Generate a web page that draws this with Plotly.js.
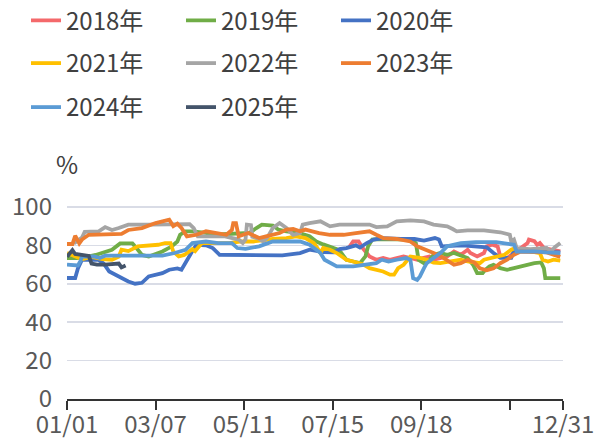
<!DOCTYPE html>
<html><head><meta charset="utf-8">
<script src="https://cdn.plot.ly/plotly-3.0.1.min.js"></script>
<style>html,body{margin:0;padding:0;background:#fff}#chart{width:598px;height:439px}</style>
</head><body><div id="chart"></div>
<script>
const seriesNames = ["2018年","2019年","2020年","2021年","2022年","2023年","2024年","2025年"];
const seriesColors = ["#F4696B","#70AD47","#4472C4","#FFC000","#A5A5A5","#ED7D31","#5B9BD5","#44546A"];

const d2018 = ["07-27","07-30","08-03","08-06","08-11","08-16","08-21","08-26","08-31","09-05","09-10","09-15","09-19","09-24","09-27","10-02","10-07","10-12","10-17","10-22","10-24","10-29","11-03","11-05","11-09","11-13","11-15","11-20","11-25","11-30","12-05","12-06","12-10","12-12","12-14","12-17","12-22","12-29"];
const v2018 = [79,82,82,78.6,74.2,72.5,73.4,72.5,73.4,74.2,73.4,72.5,73.4,74.2,72.5,73.4,74.2,76.8,75.1,77.7,76,74.2,76,79.5,80.3,79.5,74.2,73.4,76,78.6,81.2,83,82.2,80.3,81.2,78.6,77.7,76.8];

const d2019 = ["01-01","01-12","01-22","02-03","02-09","02-18","02-21","02-25","03-02","03-07","03-12","03-19","03-23","03-25","03-29","04-03","04-13","04-18","05-15","05-20","05-24","06-01","06-05","06-11","06-20","06-28","07-03","07-08","07-13","07-18","07-21","07-25","07-30","08-04","08-08","08-10","08-13","08-19","09-10","09-14","09-16","09-20","09-24","09-27","10-02","10-07","10-12","10-17","10-22","10-26","10-29","11-02","11-04","11-07","11-10","11-15","11-20","11-25","12-05","12-10","12-15","12-17","12-18","12-29"];
const v2019 = [73.4,73.4,75,77.7,81,81,78.6,75,74.2,75.5,76.8,79.5,82,85.5,87.3,87.3,86.5,85.5,86.5,89,90.8,90.3,88.2,87.3,86.5,84.7,82,80.5,79.5,78,76.3,72.5,71.6,70.7,74.2,79.5,83,83.3,83,81.2,72.5,70.7,72.5,75,76,75.1,76,74.5,73.4,69.9,65.5,65.5,67.3,69,69.9,68.1,67.3,68.1,69.9,70.7,71.1,68,62.9,62.9];

const d2020 = ["01-01","01-07","01-09","01-12","01-24","01-28","02-01","02-08","02-15","02-20","02-25","03-02","03-12","03-17","03-23","03-26","03-30","04-03","04-06","04-13","04-18","04-23","06-08","06-15","06-21","06-28","07-08","07-16","07-20","07-25","08-01","08-04","08-09","08-14","08-21","09-03","09-13","09-20","09-28","10-01","10-03","10-18","10-28","11-05","11-10","11-15","11-23","11-26","11-30","12-12","12-29"];
const v2020 = [63,63,68,72.5,72.5,70.5,66.4,63.8,61.2,60,60.5,63.8,65.5,67.3,68,67.3,72.5,77,80.3,80,78.6,75.1,74.8,75.5,76,77.7,76.5,76.3,78,78.6,80,78.8,81.2,83,83.8,83.3,83.3,82.5,83.8,83,79.5,80,79.5,79,76,73.5,73.5,79,77,76.7,76.3];

const d2021 = ["01-01","01-06","01-12","01-19","01-27","02-03","02-08","02-10","02-15","02-22","03-02","03-09","03-14","03-18","03-20","03-24","03-28","03-31","04-03","04-05","04-10","04-30","05-08","05-18","05-25","06-01","06-11","06-18","06-25","07-01","07-03","07-06","07-08","07-13","07-18","07-25","07-30","08-06","08-11","08-16","08-21","08-26","08-29","09-01","09-05","09-10","09-17","09-22","09-27","10-02","10-12","10-17","10-22","10-31","11-03","11-08","11-13","11-18","11-23","11-26","11-30","12-09","12-14","12-16","12-20","12-24","12-29"];
const v2021 = [76,74.5,72.8,74,72.8,72.5,74.2,77.7,77,79.5,79.8,80.3,81.2,81.2,76.8,74.2,75,76.8,78,77,81.2,81.2,82,82,82.8,83.3,83.8,84.7,83.8,81.2,79.5,76,78.6,77.7,76,72.5,71.6,70.2,68.1,67.3,66.4,64.7,64.7,68.1,69.9,74.2,73.5,72.5,71,70.7,71.6,72.5,71.6,70.7,72.5,73.4,74.2,75.1,77.7,78.6,77.7,76.8,76,72.5,71.6,72.5,72];

const d2022 = ["01-06","01-12","01-14","01-24","01-29","02-03","02-08","02-15","03-02","03-17","04-01","04-04","04-07","04-27","05-07","05-10","05-12","05-13","05-16","05-17","05-22","05-25","05-28","06-01","06-06","06-11","06-16","06-21","06-23","06-28","07-06","07-13","07-20","08-11","08-16","08-24","08-31","09-10","09-20","09-27","10-07","10-11","10-14","10-22","11-03","11-15","11-22","11-23","11-25","11-27","12-07","12-19","12-22","12-25","12-29"];
const v2022 = [81,84,87,87.2,89.5,88,89,90.8,90.8,91,91,89,84.7,84.7,83,81.2,83,90.8,90.5,84.5,83.5,82,84,89,91.6,89,85.5,86.4,90.8,91.6,92.5,89.9,90.8,90.8,89.5,89.9,92.5,93,92.5,90.8,89.9,88.5,87.3,87.8,87.8,86.8,85.5,82,83,78.6,78,78.6,76.8,79,81.2];

const d2023 = ["01-01","01-05","01-07","01-10","01-12","01-17","02-10","02-15","02-25","03-07","03-17","03-20","03-23","03-26","03-30","04-06","04-13","04-20","04-28","05-02","05-03","05-05","05-07","05-14","05-17","05-22","05-27","06-06","06-11","06-16","06-21","06-25","06-30","07-05","07-13","07-23","08-01","08-11","08-16","08-21","08-31","09-10","09-15","09-22","09-27","10-02","10-07","10-12","10-17","10-22","10-27","10-31","11-05","11-10","11-15","11-20","11-25","11-30","12-19","12-29"];
const v2023 = [80.7,80.7,85,81,83,85.5,86,88,89,91.6,93.4,90,91.3,89,84.7,85.5,87.3,86.4,85.5,88,91.6,91.6,84.7,86.4,85.5,83.8,84.7,86.4,88.2,88.5,87.3,88.2,87.3,86.4,85.5,85.5,86.4,87.3,85.5,83.8,83.3,82,79.5,77.7,76,74.5,72,69.9,70.7,72.5,71,68,67,68,70.7,72.5,75.1,76.8,76.3,74];

const d2024 = ["01-01","01-09","01-11","01-12","01-21","01-25","01-29","03-12","03-21","03-29","04-03","04-13","04-22","05-02","05-06","05-12","05-22","06-01","06-21","06-28","07-03","07-06","07-09","07-13","07-18","07-30","08-09","08-16","08-20","08-25","08-31","09-07","09-10","09-12","09-15","09-17","09-20","09-22","09-27","10-02","10-07","10-12","10-17","10-28","11-12","11-17","11-25","11-27","12-10","12-19","12-29"];
const v2024 = [70,69.5,72,74.2,74.2,73.4,74.6,74.6,76,77.7,81.2,82,81.2,81.2,78.6,78.2,79.5,82,82,80.3,77.7,76,72.5,70.7,69,69,69.9,70.7,72.5,71.6,72.5,73.4,72.5,62.9,62,63.8,68.1,70.7,73.4,76,79.5,80.3,81.2,81.7,81.7,81.2,80.3,76.8,76.8,76.3,76];

const d2025 = ["01-01","01-05","01-07","01-12","01-17","01-19","01-23","01-29","02-04","02-08","02-10","02-13"];
const v2025 = [74,77.5,75.5,75,74.5,70.5,70,70,70.3,70.5,68.5,69.5];

const xTickDates = ["01-01","03-07","05-11","07-15","09-18","11-22","12-31"];
const xTickLabels = ["01/01","03/07","05/11","07/15","09/18","","12/31"];
const yTicks = [0,20,40,60,80,100];

const BASE_YEAR = "2023-";
const toDate = a => a.map(s => BASE_YEAR + s);
const allDates = [d2018,d2019,d2020,d2021,d2022,d2023,d2024,d2025];
const allVals = [v2018,v2019,v2020,v2021,v2022,v2023,v2024,v2025];
const legendOf = ["legend","legend","legend","legend2","legend2","legend2","legend3","legend3"];

const FONT = '"Noto Sans CJK SC", "Noto Sans", sans-serif';
const traces = seriesNames.map((n,i) => ({
  type: 'scatter', mode: 'lines', name: n,
  x: toDate(allDates[i]), y: allVals[i],
  line: {color: seriesColors[i], width: 3.8},
  legend: legendOf[i], hoverinfo: 'skip'
}));

const legendBase = (yc) => ({
  orientation: 'h', xref: 'container', yref: 'container',
  x: 26/598, xanchor: 'left', y: 1 - yc/439, yanchor: 'middle',
  entrywidth: 110, entrywidthmode: 'pixels',
  font: {family: FONT, size: 24, color: '#404040'},
  bgcolor: 'rgba(0,0,0,0)', borderwidth: 0, itemclick: false
});

const layout = {
  width: 598, height: 439,
  margin: {l: 67, r: 35, t: 205, b: 40},
  paper_bgcolor: '#fff', plot_bgcolor: '#fff',
  font: {family: FONT, size: 24, color: '#595959'},
  showlegend: true,
  legend: legendBase(20.7),
  legend2: legendBase(63.5),
  legend3: legendBase(107.5),
  xaxis: {
    type: 'date', range: [BASE_YEAR + "01-01", BASE_YEAR + "12-31"],
    tickmode: 'array', tickvals: toDate(xTickDates), ticktext: xTickLabels,
    showgrid: false, zeroline: false,
    showline: true, linecolor: '#333333', linewidth: 2,
    ticks: 'outside', ticklen: 9, tickwidth: 2, tickcolor: '#333333',
    ticklabelstandoff: -6,
    tickfont: {family: FONT, size: 24, color: '#595959'}
  },
  yaxis: {
    range: [0, 101], tickmode: 'array', tickvals: yTicks,
    showgrid: true, gridcolor: '#D9DCE6', gridwidth: 1.5,
    zeroline: false, showline: false, ticks: '',
    ticklabelstandoff: 14,
    tickfont: {family: FONT, size: 24, color: '#595959'}
  },
  annotations: [{
    text: '%', xref: 'paper', yref: 'paper', x: 0, y: 1, yshift: 42,
    xanchor: 'center', yanchor: 'middle', showarrow: false,
    font: {family: FONT, size: 24, color: '#404040'}
  }]
};

Plotly.newPlot('chart', traces, layout, {staticPlot: true, displayModeBar: false});
</script>
</body></html>
